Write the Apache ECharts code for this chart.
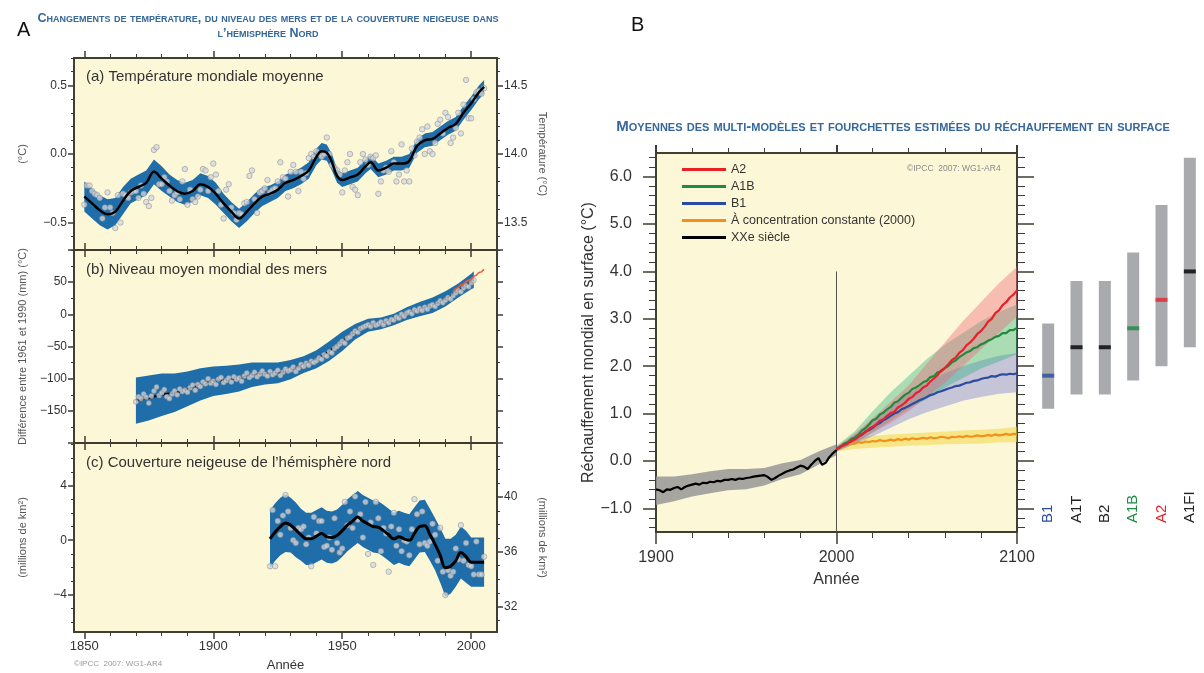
<!DOCTYPE html>
<html><head><meta charset="utf-8">
<script src="https://cdn.jsdelivr.net/npm/echarts@6/dist/echarts.min.js"></script>
<style>html,body{margin:0;padding:0;background:#fff}#c{width:1204px;height:673px}</style>
</head><body><div id="c"></div>
<script>
// ---------------- DATA ----------------
// Panel A (a): global mean temperature anomaly (°C), annual 1850-2005
const tempAnnual = [
 -0.37,-0.23,-0.23,-0.27,-0.29,-0.30,-0.32,-0.47,-0.39,-0.28,
 -0.39,-0.43,-0.54,-0.30,-0.50,-0.29,-0.30,-0.32,-0.28,-0.27,
 -0.27,-0.32,-0.23,-0.29,-0.35,-0.38,-0.32,0.03,0.05,-0.22,
 -0.22,-0.17,-0.20,-0.27,-0.34,-0.30,-0.28,-0.33,-0.20,-0.11,
 -0.37,-0.26,-0.33,-0.35,-0.31,-0.26,-0.11,-0.12,-0.27,-0.17,
 -0.07,-0.15,-0.27,-0.37,-0.47,-0.26,-0.22,-0.39,-0.43,-0.48,
 -0.43,-0.44,-0.36,-0.35,-0.16,-0.12,-0.33,-0.43,-0.28,-0.27,
 -0.25,-0.19,-0.28,-0.26,-0.25,-0.20,-0.06,-0.17,-0.18,-0.31,
 -0.13,-0.08,-0.13,-0.27,-0.13,-0.18,-0.14,-0.03,0.00,-0.02,
 0.02,0.00,-0.02,0.00,0.12,0.00,-0.08,-0.10,-0.12,-0.15,
 -0.28,-0.12,-0.06,0.00,-0.24,-0.26,-0.30,-0.06,0.00,-0.04,
 -0.08,-0.02,-0.03,-0.01,-0.29,-0.20,-0.12,-0.10,-0.13,0.02,
 -0.06,-0.20,-0.15,0.07,-0.20,-0.12,-0.20,0.04,-0.01,0.09,
 0.12,0.18,0.00,0.20,0.02,0.00,0.08,0.22,0.25,0.15,
 0.30,0.27,0.08,0.12,0.19,0.30,0.15,0.36,0.54,0.26,
 0.26,0.40,0.45,0.46,0.44,0.48];
const tempSmoothYears = [1850,1853,1856,1859,1862,1865,1868,1871,1874,1877,1880,1883,1886,1889,1892,1895,1898,1901,1904,1907,1910,1913,1916,1919,1922,1925,1928,1931,1934,1937,1940,1942,1944,1946,1948,1950,1953,1956,1959,1961,1964,1967,1970,1973,1976,1979,1982,1985,1988,1991,1994,1997,2000,2003,2005];
const tempSmooth = [-0.31,-0.36,-0.41,-0.44,-0.42,-0.34,-0.27,-0.24,-0.21,-0.13,-0.18,-0.23,-0.27,-0.29,-0.27,-0.22,-0.24,-0.29,-0.36,-0.42,-0.47,-0.42,-0.36,-0.31,-0.29,-0.26,-0.21,-0.19,-0.16,-0.12,-0.02,0.02,0.01,-0.06,-0.16,-0.19,-0.17,-0.15,-0.09,-0.06,-0.12,-0.10,-0.07,-0.07,-0.05,0.06,0.10,0.11,0.15,0.19,0.22,0.30,0.37,0.45,0.49];
const tempBandHalf = [0.11,0.11,0.11,0.11,0.10,0.10,0.09,0.09,0.09,0.09,0.09,0.08,0.08,0.08,0.08,0.08,0.08,0.08,0.07,0.07,0.07,0.07,0.07,0.07,0.06,0.06,0.06,0.06,0.06,0.06,0.06,0.06,0.06,0.06,0.05,0.05,0.05,0.05,0.05,0.05,0.05,0.05,0.05,0.05,0.05,0.05,0.05,0.05,0.05,0.05,0.05,0.05,0.05,0.05,0.05];

// Panel A (b): sea level (mm), annual 1870-2001 + satellite 1993-2005
const seaAnnual = [
 -136,-128,-131,-124,-129,-138,-127,-119,-113,-126,
 -122,-117,-128,-131,-124,-119,-125,-116,-120,-118,
 -121,-114,-110,-118,-109,-112,-105,-108,-100,-107,
 -104,-109,-101,-98,-106,-103,-99,-105,-97,-101,
 -99,-104,-96,-91,-98,-95,-90,-97,-93,-88,
 -93,-96,-89,-94,-91,-87,-95,-90,-85,-88,
 -86,-82,-89,-84,-78,-81,-76,-79,-73,-75,
 -72,-68,-70,-63,-65,-58,-60,-53,-50,-46,
 -42,-45,-37,-35,-30,-26,-28,-22,-20,-18,
 -16,-19,-13,-17,-15,-12,-16,-10,-13,-8,
 -9,-4,-6,0,-3,2,4,1,7,5,
 9,6,11,8,13,15,12,17,21,18,
 22,26,24,29,33,37,35,41,45,43,
 49,53];
const seaSmoothYears = [1870,1875,1880,1885,1890,1895,1900,1905,1910,1915,1920,1925,1930,1935,1940,1945,1950,1955,1960,1965,1970,1975,1980,1985,1990,1995,2000,2001];
const seaSmooth = [-134,-130,-125,-122,-116,-109,-104,-102,-99,-94,-92,-91,-86,-78,-70,-57,-42,-27,-17,-14,-8,1,8,14,24,37,51,54];
const seaBandHalf = [36,35,33,30,27,25,23,22,21,19,17,16,15,13,14,15,15,12,10,9,9,10,11,12,12,11,12,13];
const satYears = [1993,1994,1995,1996,1997,1998,1999,2000,2001,2002,2003,2004,2005];
const satSea = [36,40,42,46,47,51,53,55,59,61,65,66,70];

// Panel A (c): NH snow cover anomaly (million km²), annual 1922-2005
const snowAnnual = [
 -1.9,2.2,-1.9,1.4,0.4,1.8,3.3,2.1,0.9,0.0,
 -0.2,0.9,0.8,1.0,-0.3,0.2,-1.9,1.7,0.5,1.4,
 1.4,-0.5,-0.4,0.2,-0.7,1.6,-0.2,-0.9,-0.6,2.8,
 1.1,2.1,0.9,3.2,1.5,1.9,0.2,2.8,-1.0,1.3,
 -1.8,2.8,1.6,-0.8,0.9,0.5,-2.3,1.0,2.0,-0.4,
 0.8,-0.8,0.0,-0.1,-1.1,0.8,3.0,1.9,-0.3,2.1,
 -0.2,-0.4,-0.1,1.2,0.4,-1.5,0.9,-2.3,-4.0,-2.2,
 -2.6,-2.3,-0.6,-1.4,1.1,-1.5,-0.2,-1.8,-1.9,-2.5,
 -0.1,-2.5,-2.5,-1.2];
const snowSmoothYears = [1922,1924,1926,1928,1930,1932,1934,1936,1938,1940,1942,1944,1946,1948,1950,1952,1954,1956,1958,1960,1962,1964,1966,1968,1970,1972,1974,1976,1978,1980,1982,1984,1986,1988,1990,1992,1994,1996,1998,2000,2002,2005];
const snowSmooth = [0.1,0.6,1.0,1.25,1.1,0.75,0.4,0.1,0.1,0.3,0.5,0.25,0.2,0.35,0.7,1.1,1.4,1.7,1.4,1.2,1.0,0.95,0.7,0.4,0.1,0.25,0.1,0.0,0.5,1.0,1.05,0.4,-0.3,-1.1,-2.0,-1.9,-1.5,-0.9,-1.2,-1.6,-1.6,-1.6];
const snowBandHalf = [2.1,2.1,2.1,2.1,2.0,2.0,1.9,1.9,1.9,1.9,1.9,1.9,1.9,1.9,1.9,1.9,1.9,1.9,1.9,1.9,1.9,1.9,1.9,1.9,1.9,1.9,1.9,1.9,1.9,1.9,1.9,1.9,1.9,2.0,2.1,2.0,1.9,1.9,1.9,1.8,1.8,1.8];

// Panel B: multi-model means (°C), every 2 years
const histLine = [-0.60,-0.62,-0.66,-0.60,-0.61,-0.57,-0.55,-0.60,-0.55,-0.52,-0.50,-0.48,-0.50,-0.46,-0.47,-0.44,-0.45,-0.42,-0.43,-0.40,-0.40,-0.38,-0.40,-0.37,-0.38,-0.36,-0.35,-0.33,-0.32,-0.31,-0.30,-0.34,-0.40,-0.36,-0.31,-0.27,-0.23,-0.20,-0.18,-0.14,-0.10,-0.12,-0.17,-0.08,0.00,0.06,-0.08,-0.04,0.08,0.16,0.23];
const a2Line = [0.25,0.29,0.34,0.36,0.42,0.45,0.50,0.57,0.60,0.68,0.72,0.77,0.85,0.88,0.95,1.01,1.04,1.13,1.17,1.23,1.31,1.35,1.43,1.47,1.55,1.59,1.68,1.74,1.81,1.91,1.96,2.04,2.13,2.18,2.28,2.34,2.44,2.50,2.58,2.68,2.74,2.83,2.94,3.00,3.12,3.18,3.29,3.35,3.45,3.51,3.60];
const a1bLine = [0.25,0.29,0.36,0.38,0.46,0.49,0.55,0.64,0.69,0.77,0.86,0.89,0.98,1.02,1.09,1.14,1.23,1.26,1.33,1.40,1.44,1.52,1.55,1.60,1.66,1.69,1.77,1.79,1.87,1.89,1.96,2.01,2.08,2.12,2.19,2.24,2.29,2.32,2.38,2.40,2.46,2.49,2.54,2.57,2.62,2.64,2.70,2.70,2.76,2.76,2.81];
const b1Line = [0.25,0.30,0.33,0.39,0.41,0.46,0.52,0.55,0.62,0.65,0.70,0.76,0.80,0.86,0.90,0.95,1.00,1.03,1.09,1.12,1.16,1.20,1.24,1.28,1.31,1.35,1.39,1.41,1.45,1.47,1.50,1.53,1.55,1.58,1.59,1.62,1.65,1.66,1.69,1.70,1.73,1.75,1.76,1.79,1.78,1.81,1.83,1.82,1.84,1.83,1.85];
const constLine = [0.25,0.30,0.33,0.35,0.38,0.36,0.40,0.38,0.41,0.40,0.42,0.41,0.44,0.42,0.43,0.45,0.43,0.46,0.44,0.47,0.45,0.48,0.46,0.47,0.49,0.47,0.50,0.48,0.49,0.51,0.50,0.48,0.51,0.50,0.52,0.50,0.53,0.51,0.52,0.54,0.52,0.53,0.55,0.53,0.56,0.54,0.55,0.57,0.55,0.57,0.56];
// Panel B: ±1 std bands, every 10 years
const histBandLo = [-0.93,-0.85,-0.75,-0.68,-0.62,-0.60,-0.52,-0.38,-0.28,-0.08,0.12];
const histBandHi = [-0.33,-0.33,-0.28,-0.22,-0.17,-0.17,-0.15,-0.05,0.02,0.20,0.35];
const a2BandLo = [0.20,0.38,0.60,0.80,1.05,1.35,1.65,2.00,2.35,2.70,3.05];
const a2BandHi = [0.30,0.58,0.90,1.25,1.60,2.05,2.50,2.95,3.35,3.75,4.10];
const a1bBandLo = [0.20,0.38,0.60,0.85,1.10,1.30,1.55,1.75,1.95,2.10,2.25];
const a1bBandHi = [0.32,0.62,1.05,1.45,1.80,2.15,2.45,2.70,2.95,3.15,3.30];
const b1BandLo = [0.20,0.35,0.52,0.70,0.88,1.03,1.15,1.27,1.35,1.42,1.45];
const b1BandHi = [0.30,0.55,0.85,1.15,1.42,1.65,1.85,2.00,2.12,2.22,2.28];
const constBandLo = [0.20,0.25,0.28,0.30,0.32,0.33,0.35,0.36,0.37,0.39,0.40];
const constBandHi = [0.30,0.48,0.53,0.56,0.58,0.60,0.62,0.64,0.66,0.68,0.72];

// Panel B: best estimates and likely ranges at 2090-2099
const scenarios = ['B1','A1T','B2','A1B','A2','A1FI'];
const rangeLow  = [1.1,1.4,1.4,1.7,2.0,2.4];
const rangeHigh = [2.9,3.8,3.8,4.4,5.4,6.4];
const bestEst   = [1.8,2.4,2.4,2.8,3.4,4.0];

// tick labels
const tempTicks = [-0.5,0,0.5];
const tempAbsTicks = [13.5,14.0,14.5];
const seaTicks = [-150,-100,-50,0,50];
const snowTicks = [-4,0,4];
const snowAbsTicks = [32,36,40];
const yearTicksA = [1850,1900,1950,2000];
const warmTicks = [-1,0,1,2,3,4,5,6];
const yearTicksB = [1900,2000,2100];

// ---------------- BUILD ----------------
const FONT = "'Liberation Sans', Arial, Helvetica, sans-serif";
const BG = '#fcf8d7';
const FRAME = '#3f3c30';
const TXT = '#333';
const rng = (a,b,s)=>{const r=[];for(let v=a;v<=b+1e-9;v+=s)r.push(Math.round(v*1000)/1000);return r;};
const minus = v => (v<0?'\u2212':'') + Math.abs(v);
const minus1 = v => (v<0?'\u2212':'') + Math.abs(v).toFixed(1);

const grids = [
  {left:74, top:58, width:423, height:192},
  {left:74, top:250, width:423, height:193},
  {left:74, top:443, width:423, height:191},
  {left:656, top:153, width:361, height:379},
  {left:1034, top:153, width:175, height:379}
].map((g,i)=>Object.assign({show:i!==4, backgroundColor:BG, borderColor:FRAME, borderWidth:1.5}, g));

const xAxes = [], yAxes = [];
function ax(list, o){ list.push(o); return list.length-1; }
function tickAxis(gridIndex, position, min, max, ticks, len, w, label, extra){
  return Object.assign({
    type:'value', gridIndex, position, min, max,
    axisLine:{show:true, onZero:false, lineStyle:{color:FRAME, width:1.5}},
    axisTick:{show:true, customValues:ticks, length:len, lineStyle:{color:FRAME, width:w}},
    axisLabel: label || {show:false},
    splitLine:{show:false}, minorTick:{show:false}, minorSplitLine:{show:false}
  }, extra||{});
}
const lab = (vals, fmt, size, margin) => ({show:true, customValues:vals, formatter:fmt, fontSize:size, color:TXT, fontFamily:FONT, margin});

// Panel A axes
const A = [];
const minorYears = rng(1850,2000,10).filter(y=>y%50!==0);
const panelY = [
  {min:-0.7, max:0.7, major:tempTicks, minor:rng(-0.7,0.7,0.1).filter(v=>Math.abs(v*2-Math.round(v*2))>1e-6), fmt:minus1, name:'(°C)',
   rmin:13.3, rmax:14.7, rmajor:tempAbsTicks, rminor:rng(13.3,14.7,0.1).filter(v=>Math.abs(v*2-Math.round(v*2))>1e-6), rfmt:v=>v.toFixed(1), rname:'Température (°C)'},
  {min:-200, max:100, major:seaTicks.concat([100,-200]), minor:rng(-175,75,50), fmt:minus, name:'Différence entre 1961 et 1990 (mm) (°C)',
   rmin:-200, rmax:100, rmajor:rng(-200,100,50), rminor:rng(-175,75,50), rfmt:null, rname:''},
  {min:-6.7, max:7.1, major:snowTicks, minor:rng(-6,7,1).filter(v=>v%4!==0), fmt:minus, name:'(millions de km²)',
   rmin:30.15, rmax:43.95, rmajor:snowAbsTicks, rminor:rng(31,43,1).filter(v=>v%4!==0), rfmt:v=>String(v), rname:'(millions de km²)'}
];
for (let g=0; g<3; g++){
  const P = panelY[g];
  const isLast = g===2;
  const xMain = ax(xAxes, tickAxis(g,'bottom',1846,2010,yearTicksA,7,1.5,
      isLast? lab(yearTicksA, v=>String(v), 13, 8) : null,
      isLast? {name:'Année', nameLocation:'middle', nameGap:27, nameTextStyle:{fontSize:13, color:TXT, fontFamily:FONT}} : {}));
  ax(xAxes, tickAxis(g,'bottom',1846,2010,minorYears,4,1,null));
  ax(xAxes, tickAxis(g,'top',1846,2010,yearTicksA,7,1.5,null));
  ax(xAxes, tickAxis(g,'top',1846,2010,minorYears,4,1,null));
  const yMain = ax(yAxes, tickAxis(g,'left',P.min,P.max,P.major,6,1.5, lab(P.major.filter(v=>v>P.min&&v<P.max), P.fmt, 12, 7),
      {name:P.name, nameLocation:'middle', nameGap:46, nameTextStyle:{fontSize:11, color:'#555', fontFamily:FONT}}));
  ax(yAxes, tickAxis(g,'left',P.min,P.max,P.minor,3,1,null));
  ax(yAxes, tickAxis(g,'right',P.rmin,P.rmax,P.rmajor,6,1.5, P.rfmt? lab(P.rmajor, P.rfmt, 12, 7):null,
      {name:P.rname, nameLocation:'middle', nameRotate:-90, nameGap:40, nameTextStyle:{fontSize:11, color:'#555', fontFamily:FONT}}));
  ax(yAxes, tickAxis(g,'right',P.rmin,P.rmax,P.rminor,3,1,null));
  A.push({x:xMain, y:yMain});
}

// Panel B axes
const minorYB = rng(1920,2080,20).filter(y=>y!==2000);
const BxMain = ax(xAxes, tickAxis(3,'bottom',1900,2100,yearTicksB,12,1.5, lab(yearTicksB, v=>String(v), 16, 18),
   {name:'Année', nameLocation:'middle', nameGap:40, nameTextStyle:{fontSize:16, color:TXT, fontFamily:FONT}}));
ax(xAxes, tickAxis(3,'bottom',1900,2100,minorYB,6,1,null));
ax(xAxes, tickAxis(3,'top',1900,2100,yearTicksB,8,2,null));
ax(xAxes, tickAxis(3,'top',1900,2100,minorYB,5,1,null));
const minorWarm = rng(-1.4,6.4,0.2).filter(v=>Math.abs(v-Math.round(v))>1e-6);
const ByMain = ax(yAxes, tickAxis(3,'left',-1.5,6.5,warmTicks,13,1.5, lab(warmTicks, minus1, 16, 24),
   {name:'Réchauffement mondial en surface (°C)', nameLocation:'middle', nameGap:56, nameTextStyle:{fontSize:16, color:TXT, fontFamily:FONT}}));
ax(yAxes, tickAxis(3,'left',-1.5,6.5,minorWarm,7,1,null));
ax(yAxes, tickAxis(3,'right',-1.5,6.5,warmTicks,17,1.5,null));
ax(yAxes, tickAxis(3,'right',-1.5,6.5,minorWarm,8,1,null));

// Bars axes
const labelColors = {B1:'#2b4d9c', A1T:'#222', B2:'#222', A1B:'#1d8a45', A2:'#e8232a', A1FI:'#222'};
const barX = ax(xAxes, {type:'category', gridIndex:4, position:'bottom', data:scenarios,
  axisLine:{show:false, onZero:false}, axisTick:{show:false}, splitLine:{show:false},
  axisLabel:{show:true, inside:true, rotate:90, margin:9, fontSize:15, fontFamily:FONT, color:(v)=>labelColors[v]}});
const barY = ax(yAxes, {type:'value', gridIndex:4, min:-1.5, max:6.5, show:false, splitLine:{show:false}});

// helpers for series
function band(xs, lo, hi, color, xi, yi, z){
  return {type:'custom', silent:true, xAxisIndex:xi, yAxisIndex:yi, z:z||1,
    data:[[xs[0], lo[0]]],
    renderItem:(params, api)=>{
      const pts=[];
      for(let i=0;i<xs.length;i++) pts.push(api.coord([xs[i], hi[i]]));
      for(let i=xs.length-1;i>=0;i--) pts.push(api.coord([xs[i], lo[i]]));
      return {type:'polygon', shape:{points:pts}, style:{fill:color}};
    }};
}
const pairs = (xs, ys)=>xs.map((x,i)=>[x, ys[i]]);
const BLUE = '#1f6ea9';
const dotStyle = {color:'rgba(212,215,225,0.95)', borderColor:'#8d8d8d', borderWidth:0.7};

const series = [];
// (a)
series.push(band(tempSmoothYears, tempSmooth.map((v,i)=>v-tempBandHalf[i]), tempSmooth.map((v,i)=>v+tempBandHalf[i]), BLUE, A[0].x, A[0].y));
series.push({type:'scatter', xAxisIndex:A[0].x, yAxisIndex:A[0].y, z:2, symbolSize:5.5, itemStyle:dotStyle,
  data:pairs(rng(1850,2005,1), tempAnnual)});
series.push({type:'line', xAxisIndex:A[0].x, yAxisIndex:A[0].y, z:3, smooth:0.4, showSymbol:false,
  lineStyle:{color:'#000', width:2.5}, data:pairs(tempSmoothYears, tempSmooth)});
// (b)
series.push(band(seaSmoothYears, seaSmooth.map((v,i)=>v-seaBandHalf[i]), seaSmooth.map((v,i)=>v+seaBandHalf[i]), BLUE, A[1].x, A[1].y));
series.push({type:'line', xAxisIndex:A[1].x, yAxisIndex:A[1].y, z:2, smooth:0.4, showSymbol:false,
  lineStyle:{color:'#000', width:2}, data:pairs(seaSmoothYears, seaSmooth)});
series.push({type:'scatter', xAxisIndex:A[1].x, yAxisIndex:A[1].y, z:3, symbolSize:5, itemStyle:dotStyle,
  data:pairs(rng(1870,2001,1), seaAnnual)});
series.push({type:'line', xAxisIndex:A[1].x, yAxisIndex:A[1].y, z:4, showSymbol:false,
  lineStyle:{color:'#f0553a', width:1.5}, data:pairs(satYears, satSea)});
// (c)
series.push(band(snowSmoothYears, snowSmooth.map((v,i)=>v-snowBandHalf[i]), snowSmooth.map((v,i)=>v+snowBandHalf[i]), BLUE, A[2].x, A[2].y));
series.push({type:'scatter', xAxisIndex:A[2].x, yAxisIndex:A[2].y, z:2, symbolSize:5.5, itemStyle:dotStyle,
  data:pairs(rng(1922,2005,1), snowAnnual)});
series.push({type:'line', xAxisIndex:A[2].x, yAxisIndex:A[2].y, z:3, smooth:0.4, showSymbol:false,
  lineStyle:{color:'#000', width:3}, data:pairs(snowSmoothYears, snowSmooth)});

// Panel B
const yrs20 = rng(1900,2000,2), yrs21 = rng(2000,2100,2);
const dec20 = rng(1900,2000,10), dec21 = rng(2000,2100,10);
series.push(band(dec20, histBandLo, histBandHi, 'rgba(150,150,150,0.85)', BxMain, ByMain, 1));
series.push(band(dec21, constBandLo, constBandHi, 'rgba(240,215,70,0.55)', BxMain, ByMain, 1));
series.push(band(dec21, b1BandLo, b1BandHi, 'rgba(110,110,215,0.38)', BxMain, ByMain, 1));
series.push(band(dec21, a1bBandLo, a1bBandHi, 'rgba(40,175,125,0.38)', BxMain, ByMain, 1));
series.push(band(dec21, a2BandLo, a2BandHi, 'rgba(240,100,120,0.40)', BxMain, ByMain, 1));
series.push({type:'line', xAxisIndex:BxMain, yAxisIndex:ByMain, z:2, showSymbol:false, silent:true,
  lineStyle:{color:'#555', width:1}, data:[[2000,-1.5],[2000,4.0]]});
const lineS = (name, xs, ys, color)=>({name, type:'line', xAxisIndex:BxMain, yAxisIndex:ByMain, z:4, showSymbol:false,
  itemStyle:{color}, lineStyle:{color, width:2.2}, data:pairs(xs, ys)});
series.push(lineS('À concentration constante (2000)', yrs21, constLine, '#f39019'));
series.push(lineS('B1', yrs21, b1Line, '#2c4a9e'));
series.push(lineS('A1B', yrs21, a1bLine, '#1e8b3e'));
series.push(lineS('A2', yrs21, a2Line, '#e8202a'));
series.push(lineS('XXe siècle', yrs20, histLine, '#000'));

// Bars
series.push({type:'bar', xAxisIndex:barX, yAxisIndex:barY, stack:'r', barWidth:12, silent:true,
  itemStyle:{color:'rgba(0,0,0,0)'}, data:rangeLow});
series.push({type:'bar', xAxisIndex:barX, yAxisIndex:barY, stack:'r', barWidth:12, silent:true,
  itemStyle:{color:'#a9aaad'}, data:rangeHigh.map((h,i)=>h-rangeLow[i])});
series.push({type:'scatter', xAxisIndex:barX, yAxisIndex:barY, z:5, symbol:'rect', symbolSize:[12,4], silent:true,
  data:scenarios.map((s,i)=>({value:[s, bestEst[i]], itemStyle:{color:s==='A1B'?'#1d8a45':s==='A2'?'#e8232a':s==='B1'?'#2b4d9c':'#000'}}))});

const titleStyleA = {fontSize:12.5, fontWeight:'bold', fontStyle:'small-caps', color:'#35679a', fontFamily:FONT, lineHeight:15};
const titleStyleB = {fontSize:15, fontWeight:'bold', fontStyle:'small-caps', color:'#35679a', fontFamily:FONT};
const option = {
  animation:false,
  backgroundColor:'#fff',
  textStyle:{fontFamily:FONT},
  title:[
    {text:'A', left:12, top:15, textStyle:{fontSize:20, fontWeight:'normal', color:'#111', fontFamily:FONT}},
    {text:'B', left:626, top:10, textStyle:{fontSize:20, fontWeight:'normal', color:'#111', fontFamily:FONT}},
    {text:'Changements de température, du niveau des mers et de la couverture neigeuse dans\nl’hémisphère Nord', left:263, top:6, textAlign:'center', textStyle:titleStyleA},
    {text:'Moyennes des multi-modèles et fourchettes estimées du réchauffement en surface', left:888, top:114, textAlign:'center', textStyle:titleStyleB},
    {text:'(a) Température mondiale moyenne', left:81, top:64, textStyle:{fontSize:15, fontWeight:'normal', color:TXT, fontFamily:FONT}},
    {text:'(b) Niveau moyen mondial des mers', left:81, top:257, textStyle:{fontSize:15, fontWeight:'normal', color:TXT, fontFamily:FONT}},
    {text:'(c) Couverture neigeuse de l’hémisphère nord', left:81, top:450, textStyle:{fontSize:15, fontWeight:'normal', color:TXT, fontFamily:FONT}},
    {text:'©IPCC  2007: WG1-AR4', left:69, top:655, textStyle:{fontSize:8, fontWeight:'normal', color:'#9a9a9a', fontFamily:FONT}},
    {text:'©IPCC  2007: WG1-AR4', left:902, top:159, textStyle:{fontSize:8.5, fontWeight:'normal', color:'#8a8a8a', fontFamily:FONT}}
  ],
  legend:{data:['A2','A1B','B1','À concentration constante (2000)','XXe siècle'], orient:'vertical', left:677, top:158,
    icon:'rect', itemWidth:44, itemHeight:3, itemGap:4, selectedMode:false,
    textStyle:{fontSize:12.5, color:TXT, fontFamily:FONT}},
  grid:grids, xAxis:xAxes, yAxis:yAxes, series
};
const chart = echarts.init(document.getElementById('c'), null, {renderer:'canvas'});
chart.setOption(option);
</script>
</body></html>
